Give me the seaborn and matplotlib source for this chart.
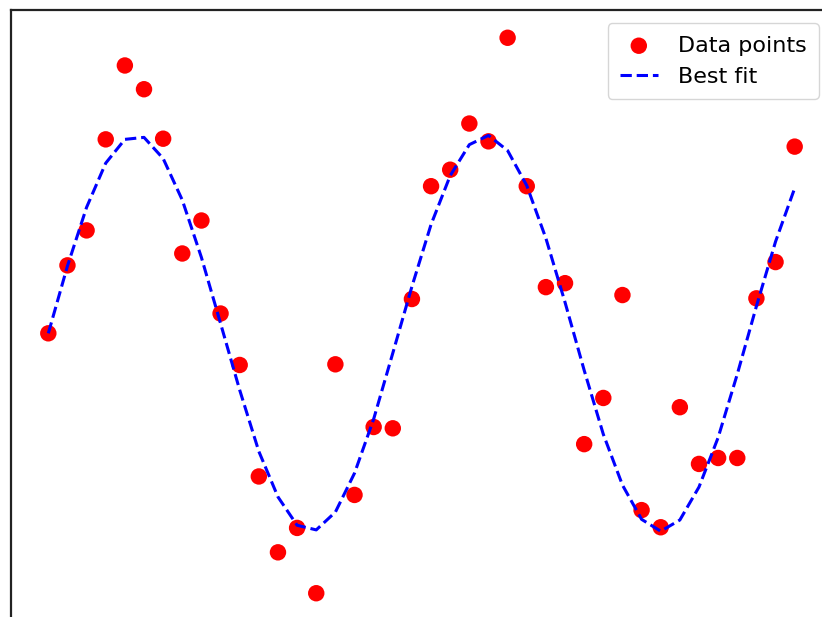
import numpy as np
import pandas as pd
import matplotlib
matplotlib.use('Agg')
import matplotlib.pyplot as plt
import seaborn as sns

# x-Werte: 40 gleichmäßig verteilte Messpunkte
x_values = np.linspace(0, 10, 40)

data_points = [0.00, 1.03, 1.56, 2.94, 4.06, 3.70, 2.95, 1.21, 1.71, 0.30,
               -0.48, -2.17, -3.32, -2.95, -3.94, -0.47, -2.45, -1.42, -1.44, 0.52,
               2.23, 2.48, 3.18, 2.91, 4.48, 2.23, 0.70, 0.76, -1.68, -0.98,
               0.58, -2.68, -2.94, -1.12, -1.98, -1.89, -1.89, 0.53, 1.08, 2.83]

# Fit-Kurve an denselben x-Werten
best_fit = [0.00, 1.02, 1.91, 2.58, 2.94, 2.97, 2.65, 2.02, 1.15, 0.15,
            -0.86, -1.79, -2.48, -2.91, -2.98, -2.71, -2.12, -1.30, -0.30, 0.71,
            1.65, 2.39, 2.86, 3.00, 2.77, 2.24, 1.44, 0.47, -0.56, -1.53,
            -2.30, -2.82, -3.00, -2.83, -2.33, -1.58, -0.62, 0.41, 1.39, 2.20]

df = pd.DataFrame({'x': x_values, 'y': data_points, 'fit': best_fit})

fig = plt.figure(figsize=(8.22, 6.17), dpi=100)
ax = fig.add_axes([11 / 822, -4 / 617, 821 / 822, 611 / 617])

sns.scatterplot(data=df, x='x', y='y', color='red', s=140, edgecolor='none',
                label='Data points', ax=ax, zorder=2)
sns.lineplot(data=df, x='x', y='fit', color='blue', linestyle='--', linewidth=2.2,
             label='Best fit', ax=ax, zorder=3)

ax.set_xticks([])
ax.set_yticks([])
ax.set_xlabel('')
ax.set_ylabel('')
for side in ['left', 'top']:
    ax.spines[side].set_linewidth(1.6)
    ax.spines[side].set_color('#222222')

ax.legend(loc='upper right', fontsize=16, handlelength=1.7, handletextpad=0.9,
          borderpad=0.55, borderaxespad=0.6)

fig.savefig('out.png', dpi=100)
